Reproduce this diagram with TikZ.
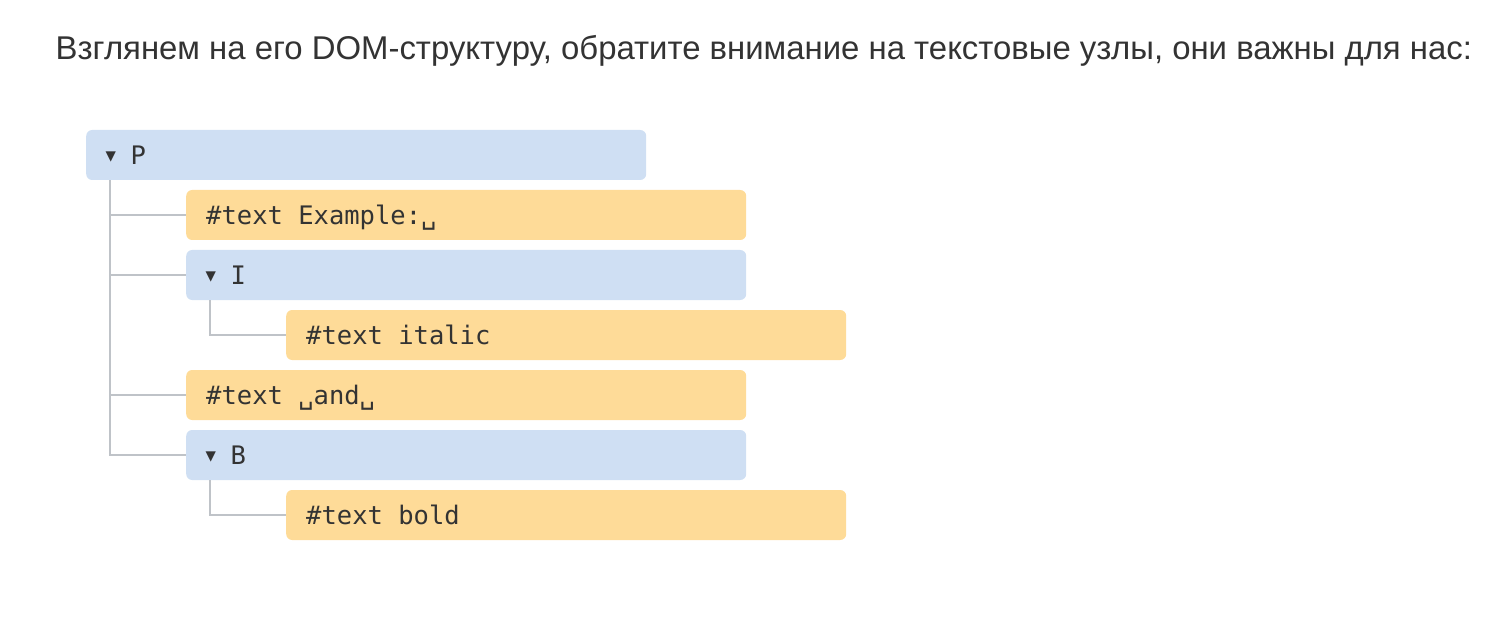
\documentclass[tikz,border=0pt]{standalone}
\usepackage{fontspec}
\usetikzlibrary{calc}
\newfontfamily\hfont{Liberation Sans}
\newfontfamily\monofont{DejaVu Sans Mono}
\newfontfamily\symfont{DejaVu Sans}
\definecolor{textgray}{HTML}{333333}
\definecolor{tagblue}{HTML}{CFDFF3}
\definecolor{txtyellow}{HTML}{FEDB98}
\definecolor{linegray}{HTML}{BFC3C8}
\newcommand\tri{\makebox[24.5pt][l]{\hspace{-0.5pt}\raisebox{3.5pt}{\symfont\fontsize{13.5pt}{14pt}\selectfont ▼}}}
\newcommand\ms{\hspace*{0.60205em}}
\begin{document}
\begin{tikzpicture}[x=1pt,y=-1pt,
  box/.style={rounded corners=6pt, minimum height=50pt, text width=520pt,
    inner xsep=20pt, inner ysep=0pt, align=left, text height=18.5pt, text depth=0pt,
    font=\monofont\fontsize{25.5pt}{30pt}\selectfont, text=textgray, anchor=west},
  tagbox/.style={box, fill=tagblue},
  txtbox/.style={box, fill=txtyellow},
  conn/.style={draw=linegray, line width=2pt}]
\useasboundingbox (0,0) rectangle (1504,628);
\node[anchor=base west, inner sep=0pt, text=textgray,
  font=\hfont\fontsize{32.9pt}{38pt}\selectfont] (hdr) at (55.5,59.7)
  {Взглянем на его DOM-структуру, обратите внимание на текстовые узлы, они важны для нас:};
\node[tagbox] (p) at (86,155) {\tri P};
\node[txtbox] (ex) at (186,215) {\#text\ms Example:␣};
\node[tagbox] (i) at (186,275) {\tri I};
\node[txtbox] (it) at (286,335) {\#text\ms italic};
\node[txtbox] (and) at (186,395) {\#text\ms ␣and␣};
\node[tagbox] (b) at (186,455) {\tri B};
\node[txtbox] (bo) at (286,515) {\#text\ms bold};
\coordinate (pv) at ($(p.south west)+(24,0)$);
\coordinate (iv) at ($(i.south west)+(24,0)$);
\coordinate (bv) at ($(b.south west)+(24,0)$);
\draw[conn] (pv) |- (ex.west);
\draw[conn] (pv) |- (i.west);
\draw[conn] (pv) |- (and.west);
\draw[conn] (pv) |- (b.west);
\draw[conn] (iv) |- (it.west);
\draw[conn] (bv) |- (bo.west);
\end{tikzpicture}
\end{document}
